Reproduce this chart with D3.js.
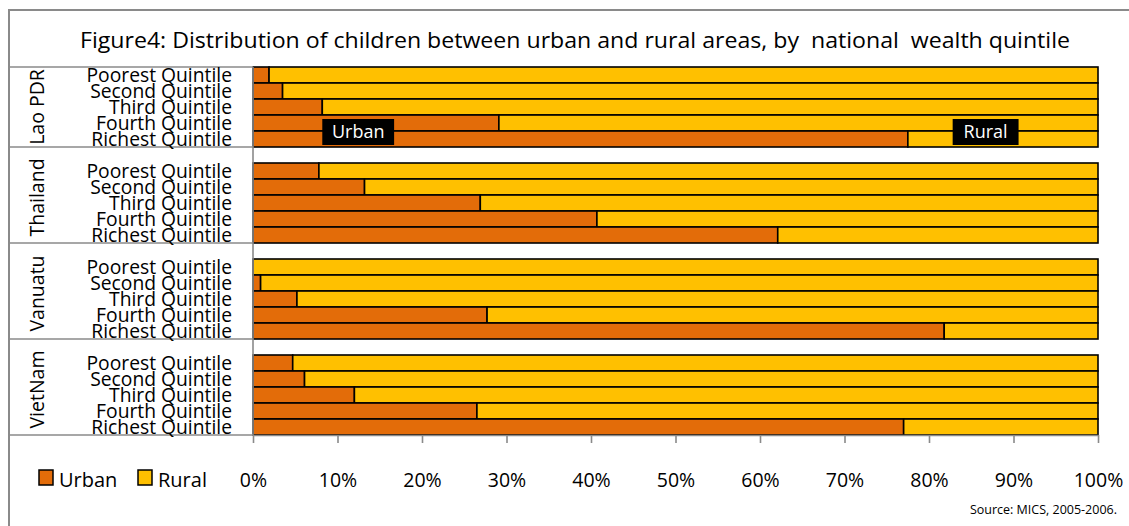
<!DOCTYPE html>
<html>
<head>
<meta charset="utf-8">
<script src="https://cdn.jsdelivr.net/npm/d3@7"></script>
<style>
  html, body { margin: 0; padding: 0; background: #fff; }
  svg { display: block; font-family: "Open Sans", "Noto Sans", sans-serif; }
</style>
</head>
<body>
<svg id="chart" width="1129" height="526"></svg>
<script>
// Share of children living in urban areas (%), by wealth quintile
const countries = ["Lao PDR", "Thailand", "Vanuatu", "VietNam"];
const quintiles = ["Poorest Quintile", "Second Quintile", "Third Quintile", "Fourth Quintile", "Richest Quintile"];
const urbanLao      = [1.9, 3.5, 8.2, 29.1, 77.5];
const urbanThailand = [7.8, 13.2, 26.9, 40.7, 62.1];
const urbanVanuatu  = [0.0, 0.9, 5.2, 27.7, 81.8];
const urbanVietNam  = [4.7, 6.1, 12.0, 26.5, 77.0];
const xTicks = [0, 10, 20, 30, 40, 50, 60, 70, 80, 90, 100];
const seriesNames = ["Urban", "Rural"];
const titleText = "Figure4: Distribution of children between urban and rural areas, by  national  wealth quintile";
const sourceText = "Source: MICS, 2005-2006.";

const urbanByCountry = [urbanLao, urbanThailand, urbanVanuatu, urbanVietNam];
const colors = { Urban: "#E36C09", Rural: "#FFC000" };
const gridGray = "#8a8a8a";

// rows: one per quintile, with an empty slot ahead of every country but the first
const slots = [];
const rows = [];
countries.forEach((c, ci) => {
  if (ci > 0) slots.push("gap-" + ci);
  quintiles.forEach((q, qi) => {
    const key = c + "|" + q;
    slots.push(key);
    const u = urbanByCountry[ci][qi];
    rows.push({ key, country: c, quintile: q, urban: u, rural: 100 - u });
  });
});

const svg = d3.select("#chart");
const plotLeft = 253, plotRight = 1098, plotTop = 67, plotBottom = 435;
const frameLeft = 9;

const x = d3.scaleLinear().domain([0, 100]).range([plotLeft, plotRight]);
const y = d3.scaleBand().domain(slots).range([plotTop, plotBottom]).padding(0);

// outer frame (continues past the page edge on the right and bottom)
svg.append("rect")
  .attr("x", frameLeft).attr("y", 10)
  .attr("width", 1160).attr("height", 560)
  .attr("fill", "none").attr("stroke", gridGray).attr("stroke-width", 2);

// title, stretched across the chart width
svg.append("text")
  .attr("x", 80).attr("y", 48)
  .style("white-space", "pre")
  .attr("font-size", 21.5)
  .attr("textLength", 990)
  .attr("lengthAdjust", "spacingAndGlyphs")
  .attr("fill", "#000")
  .text(titleText);

// bars
const barG = svg.append("g");
rows.forEach(r => {
  const segs = [
    { name: "Urban", x0: 0, x1: r.urban },
    { name: "Rural", x0: r.urban, x1: 100 }
  ];
  segs.forEach(s => {
    if (s.x1 - s.x0 <= 0) return;
    barG.append("rect")
      .attr("x", x(s.x0)).attr("y", y(r.key))
      .attr("width", x(s.x1) - x(s.x0)).attr("height", y.bandwidth())
      .attr("fill", colors[s.name])
      .attr("stroke", "#000").attr("stroke-width", 1.6);
  });
});

// group separators on the category side
const groupEdges = [];
countries.forEach((c, ci) => {
  groupEdges.push(ci === 0 ? y(c + "|" + quintiles[0]) : y("gap-" + ci));
});
groupEdges.push(plotBottom);
svg.append("g").selectAll("line").data(groupEdges).join("line")
  .attr("x1", frameLeft).attr("x2", plotLeft)
  .attr("y1", d => d).attr("y2", d => d)
  .attr("stroke", gridGray).attr("stroke-width", 1.6);

// vertical category axis line
svg.append("line")
  .attr("x1", plotLeft).attr("x2", plotLeft)
  .attr("y1", plotTop).attr("y2", plotBottom)
  .attr("stroke", gridGray).attr("stroke-width", 1.6);

// quintile labels
svg.append("g").selectAll("text").data(rows).join("text")
  .attr("x", 232)
  .attr("y", d => y(d.key) + y.bandwidth() - 1)
  .attr("text-anchor", "end")
  .attr("font-size", 19.3)
  .attr("fill", "#000")
  .text(d => d.quintile);

// country labels, rotated
countries.forEach((c, ci) => {
  const cy = (groupEdges[ci] + groupEdges[ci + 1]) / 2 + (ci === 0 ? 0 : 2.5);
  svg.append("text")
    .attr("transform", `translate(43.5,${cy}) rotate(-90)`)
    .attr("text-anchor", "middle")
    .attr("font-size", 19.5)
    .attr("fill", "#000")
    .text(c);
});

// percentage axis
const xAxis = d3.axisBottom(x)
  .tickValues(xTicks)
  .tickFormat(d => d + "%")
  .tickSize(8)
  .tickSizeOuter(0)
  .tickPadding(30);
const axG = svg.append("g")
  .attr("transform", `translate(0,${plotBottom})`)
  .call(xAxis);
axG.select(".domain").attr("stroke", gridGray).attr("stroke-width", 1.6);
axG.selectAll(".tick line").attr("stroke", gridGray).attr("stroke-width", 1.6);
axG.selectAll(".tick text")
  .attr("font-size", 19.5)
  .attr("font-family", "'Open Sans', 'Noto Sans', sans-serif")
  .attr("fill", "#000");

// series call-outs inside the Lao PDR block
const calloutY = y(countries[0] + "|" + quintiles[4]);
const callouts = [
  { name: "Urban", x0: 8.2, x1: 16.7 },
  { name: "Rural", x0: 82.8, x1: 90.6 }
];
callouts.forEach(cb => {
  svg.append("rect")
    .attr("x", x(cb.x0)).attr("y", calloutY - 12)
    .attr("width", x(cb.x1) - x(cb.x0)).attr("height", 26)
    .attr("fill", "#000");
  svg.append("text")
    .attr("x", (x(cb.x0) + x(cb.x1)) / 2).attr("y", calloutY + 7)
    .attr("text-anchor", "middle")
    .attr("font-size", 18)
    .attr("fill", "#fff")
    .text(cb.name);
});

// legend
const legend = svg.append("g").attr("transform", "translate(39,470)");
const legendX = [0, 99];
seriesNames.forEach((s, i) => {
  legend.append("rect")
    .attr("x", legendX[i]).attr("y", 0)
    .attr("width", 14).attr("height", 15)
    .attr("fill", colors[s]).attr("stroke", "#000").attr("stroke-width", 1.5);
  legend.append("text")
    .attr("x", legendX[i] + 20).attr("y", 17)
    .attr("font-size", 20)
    .attr("fill", "#000")
    .text(s);
});

// source note
svg.append("text")
  .attr("x", 1117).attr("y", 514)
  .attr("text-anchor", "end")
  .attr("font-size", 12.5)
  .attr("fill", "#000")
  .text(sourceText);
</script>
</body>
</html>
